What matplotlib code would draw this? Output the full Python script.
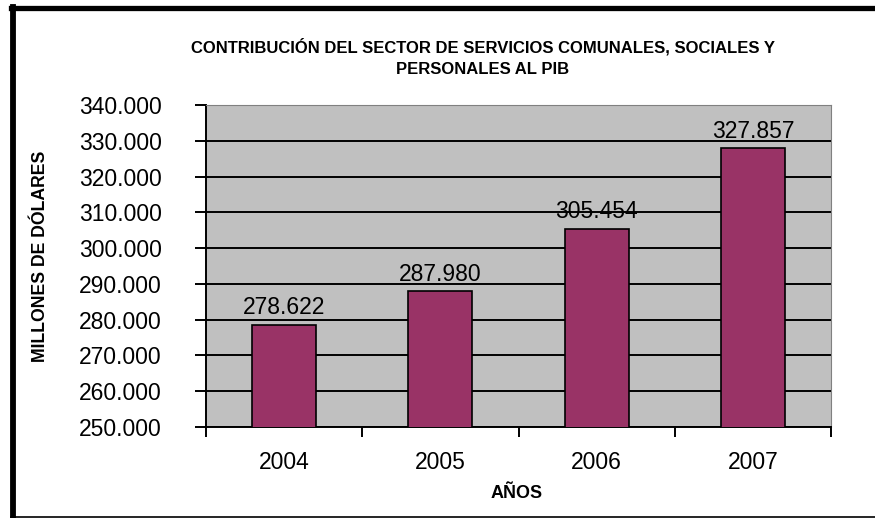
import matplotlib.pyplot as plt
from matplotlib.lines import Line2D
import numpy as np

plt.rcParams['font.family'] = ['Liberation Sans', 'DejaVu Sans']

years = ["2004", "2005", "2006", "2007"]
values = [278622, 287980, 305454, 327857]
y_ticks = [250000, 260000, 270000, 280000, 290000, 300000, 310000, 320000, 330000, 340000]

W, H = 875, 518
fig = plt.figure(figsize=(W / 100, H / 100), dpi=100)
fig.patch.set_facecolor("white")

# plot area in pixels: left 206, right 831, top 105, bottom 427
ax = fig.add_axes([206 / W, 1 - 427 / H, (831 - 206) / W, (427 - 105) / H])
ax.set_facecolor("#C0C0C0")

x = np.arange(len(years))
ax.bar(x, values, width=0.41, bottom=0, color="#993366", edgecolor="black",
       linewidth=1.2, zorder=3)
for xi, v in zip(x, values):
    ax.text(xi, v + 1500, f"{v / 1000:.3f}", ha="center", va="bottom",
            fontsize=16.5, color="black", zorder=4)

ax.set_ylim(250000, 340000)
ax.set_xlim(-0.5, len(years) - 0.5)
ax.set_yticks(y_ticks)
ax.set_yticklabels([f"{t / 1000:.3f}" for t in y_ticks], fontsize=16.5)
ax.yaxis.grid(True, color="black", linewidth=1.4, zorder=1)
ax.set_axisbelow(True)

# year labels in the middle of each category, ticks on category boundaries
ax.set_xticks(np.arange(len(years) + 1) - 0.5)
ax.set_xticklabels([])
ax.set_xticks(x, minor=True)
ax.set_xticklabels(years, minor=True, fontsize=16.5)
ax.tick_params(axis="x", which="minor", length=0, pad=17)
ax.tick_params(axis="x", which="major", length=7, width=1.4, direction="out")
ax.tick_params(axis="y", length=8, width=1.4, direction="out", pad=24)

ax.spines["left"].set_color("black")
ax.spines["left"].set_linewidth(1.4)
ax.spines["bottom"].set_color("black")
ax.spines["bottom"].set_linewidth(1.4)
ax.spines["top"].set_color("#808080")
ax.spines["right"].set_color("#808080")

fig.text(483 / W, 1 - 47 / H, "CONTRIBUCIÓN DEL SECTOR DE SERVICIOS COMUNALES, SOCIALES Y",
         ha="center", va="center", fontsize=12, fontweight="bold")
fig.text(483 / W, 1 - 70 / H, "PERSONALES AL PIB",
         ha="center", va="center", fontsize=12, fontweight="bold")
fig.text(41 / W, 1 - 256 / H, "MILLONES DE DÓLARES", rotation=90,
         ha="center", va="center", fontsize=12.7, fontweight="bold")
fig.text(517 / W, 1 - 493 / H, "AÑOS", ha="center", va="center",
         fontsize=13, fontweight="bold")

# outer frame of the chart
fig.add_artist(Line2D([13 / W, 13 / W], [1 - 7 / H, 1 - 516.5 / H],
                      transform=fig.transFigure, color="black", linewidth=4.2))
fig.add_artist(Line2D([10.5 / W, 1.0], [1 - 7.5 / H, 1 - 7.5 / H],
                      transform=fig.transFigure, color="black", linewidth=3.8))
fig.add_artist(Line2D([11 / W, 1.0], [1 - 516.5 / H, 1 - 516.5 / H],
                      transform=fig.transFigure, color="black", linewidth=1.2))

fig.savefig("out.png", dpi=100)
